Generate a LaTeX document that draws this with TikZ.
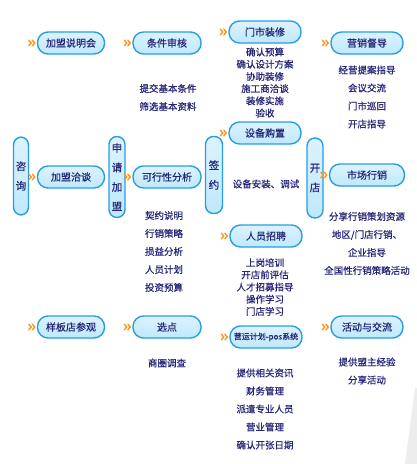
\documentclass[tikz,border=0pt]{standalone}
\usepackage{fontspec}
\newfontfamily\cjk[FakeBold=0.6]{Noto Sans CJK SC}
\usetikzlibrary{positioning}
\definecolor{pillblue}{RGB}{40,158,224}
\definecolor{pillfill}{RGB}{190,233,252}
\definecolor{navytext}{RGB}{38,38,120}
\definecolor{chevorange}{RGB}{255,150,25}

\begin{document}
\begin{tikzpicture}[x=1pt, y=-1pt,
        base/.style={draw=pillblue, line width=1.4pt, align=center, text=navytext, inner sep=0pt,
            top color=pillfill!55!white, bottom color=pillfill},
        hpill/.style={base, rounded corners=10.5pt, minimum width=67pt, minimum height=22pt,
            font=\cjk\fontsize{10}{11}\selectfont},
        widepill/.style={hpill, minimum width=72pt},
        vpill/.style={base, rounded corners=8pt, minimum width=16pt, minimum height=79pt,
            font=\cjk\fontsize{10.5}{19.5}\selectfont},
        note/.style={align=center, text=navytext, inner sep=0pt, font=\cjk\fontsize{9.5}{18}\selectfont},
        tightnote/.style={note, font=\cjk\fontsize{9.5}{12.2}\selectfont},
        chev/.pic={\draw[chevorange, line width=1.4pt, line cap=round, line join=round]
            (-8,-2.8) -- (-5.5,0) -- (-8,2.8) (-4.5,-2.8) -- (-2,0) -- (-4.5,2.8);}
    ]
        \useasboundingbox (0,0) rectangle (417,464);
        \fill[gray!14] (415,388) -- (417,388) -- (417,464) -- (405,464) -- cycle;

        % Column 1
        \node (jmsmh) [hpill] at (71, 43) {加盟说明会};
        \node (zx) [vpill, minimum width=15pt, minimum height=78pt] at (21, 176) {咨\\询};
        \node (jmqt) [hpill] at (71, 177) {加盟洽谈};
        \node (ybdcg) [hpill] at (71, 327) {样板店参观};

        % Column 2
        \node (sqjm) [vpill, minimum height=81pt] at (117, 177) {申\\请\\加\\盟};
        \node (tjsh) [hpill, minimum width=68pt] at (167, 43) {条件审核};
        \node (tjsh-note) [note] at (168, 97.5) {提交基本条件\\筛选基本资料};
        \node (kxxfx) [hpill, minimum width=68pt] at (167, 177) {可行性分析};
        \node (kxxfx-note) [note] at (164, 251.5) {契约说明\\行销策略\\损益分析\\人员计划\\投资预算};
        \node (xd) [hpill, minimum width=68pt] at (167, 327) {选点};
        \node (xd-note) [note] at (167, 363) {商圈调查};

        % Column 3
        \node (qy) [vpill, minimum width=17pt, minimum height=77pt] at (214, 175) {签\\约};
        \node (mszx) [widepill] at (265, 32) {门市装修};
        \node (mszx-note) [tightnote] at (265, 82.5) {确认预算\\确认设计方案\\协助装修\\施工商洽谈\\装修实施\\验收};
        \node (sbgz) [widepill] at (265, 133) {设备购置};
        \node (sbgz-note) [note] at (266, 184) {设备安装、调试};
        \node (ryzp) [widepill] at (266, 236) {人员招聘};
        \node (ryzp-note) [tightnote] at (265, 287) {上岗培训\\开店前评估\\人才招募指导\\操作学习\\门店学习};
        \node (yyjh) [widepill, font=\cjk\fontsize{8}{9}\selectfont] at (266, 337) {营运计划-pos系统};
        \node (yyjh-note) [note] at (265, 409) {提供相关资讯\\财务管理\\派遣专业人员\\营业管理\\确认开张日期};

        % Column 4
        \node (kd) [vpill, minimum height=80pt] at (315, 178) {开\\店};
        \node (yxdd) [widepill] at (367, 43) {营销督导};
        \node (yxdd-note) [note] at (367, 97) {经营提案指导\\会议交流\\门市巡回\\开店指导};
        \node (scxx) [widepill, minimum width=75pt] at (367, 175) {市场行销};
        \node (scxx-note) [note] at (367, 243.5) {分享行销策划资源\\地区/门店行销、\\企业指导\\全国性行销策略活动};
        \node (hdyjl) [widepill] at (367, 327) {活动与交流};
        \node (hdyjl-note) [note] at (367, 371) {提供盟主经验\\分享活动};

        % Chevrons
        \foreach \n in {jmsmh, jmqt, ybdcg, tjsh, kxxfx, xd, mszx, sbgz, ryzp, yyjh, yxdd, scxx, hdyjl}
            \pic at (\n.west) {chev};
    \end{tikzpicture}
\end{document}
